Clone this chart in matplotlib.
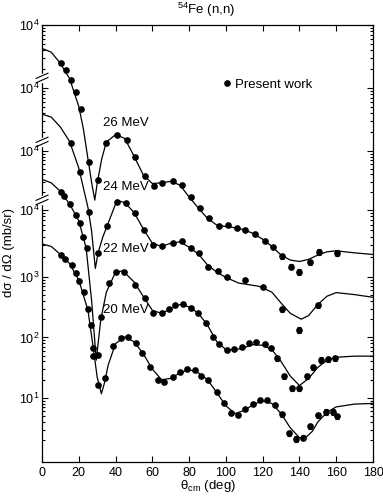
import numpy as np
import matplotlib
matplotlib.use('Agg')
import matplotlib.pyplot as plt
from matplotlib.ticker import FixedLocator, FixedFormatter, NullFormatter

plt.rcParams['font.family'] = ['Liberation Sans', 'DejaVu Sans']
plt.rcParams['mathtext.fontset'] = 'custom'
plt.rcParams['mathtext.rm'] = 'Liberation Sans'
plt.rcParams['mathtext.it'] = 'Liberation Sans:italic'

# Measured points (values as plotted, curves offset on the stacked scale)
angle_26 = [10.5, 13, 15.5, 18.5, 21, 25.5, 30.5, 35, 41, 46, 50.5, 56, 61, 65.5, 71, 76, 81, 86,
            91, 96, 101, 106, 110.5, 116, 121, 125.5, 130.5, 135.5, 140, 145.5, 150.5, 160.5]
xs_26 = [3.4e6, 2.6e6, 1.8e6, 1.14e6, 6.05e5, 8.0e4, 4.0e4, 1.64e5, 2.2e5, 1.84e5, 9.7e4, 4.7e4,
         3.2e4, 3.6e4, 3.9e4, 3.3e4, 2.1e4, 1.37e4, 9.3e3, 6.9e3, 7.1e3, 6.4e3, 5.9e3, 5.1e3,
         4.0e3, 3.1e3, 2.2e3, 1.48e3, 1.21e3, 1.74e3, 2.6e3, 2.5e3]

angle_24 = [15.5, 20.5, 25.5, 30.5, 35.5, 41, 45.5, 50.5, 55.5, 60.5, 65.5, 71, 76, 81, 85.5,
            90.5, 95.5, 100.5, 110.5, 120, 130.5, 140, 150]
xs_24 = [1.66e5, 5.5e4, 1.2e4, 2.47e3, 7.0e3, 1.76e4, 1.69e4, 1.16e4, 6.05e3, 3.4e3, 3.2e3,
         3.7e3, 4.0e3, 3.0e3, 2.5e3, 1.45e3, 1.26e3, 1.0e3, 8.9e2, 6.9e2, 2.9e2, 1.33e2, 3.4e2]

angle_22 = [10.5, 12, 15, 18.5, 20.5, 22.5, 24.5, 28, 30.5, 32, 36.5, 40, 44.5, 50.5, 56, 60.5,
            65, 69, 72.5, 76.5, 81, 85, 89, 93, 96.5, 100.5, 104.5, 109, 112.5, 116.5, 121,
            124.5, 128, 131.5, 136, 140, 144, 147.5, 151.5, 155.5, 159.5]
xs_22 = [2.5e4, 2.2e4, 1.6e4, 1.06e4, 7.7e3, 4.5e3, 3.0e3, 49, 51, 2.2e2, 8.0e2, 1.22e3, 1.22e3,
         7.4e2, 4.45e2, 2.57e2, 2.5e2, 2.9e2, 3.45e2, 3.6e2, 3.05e2, 2.57e2, 1.76e2, 1.0e2, 78,
         62, 64, 69, 82, 85, 78, 66, 45, 23, 14.5, 14.5, 23, 32, 42.5, 43.6, 45.3]

angle_20 = [10.5, 12.5, 16.5, 18.5, 20, 23, 25, 26.5, 28, 30.5, 34.5, 38.5, 43, 47, 51, 54.5, 59,
            63, 66.5, 71, 75, 79, 83, 86.5, 90.5, 95, 99, 103, 106.5, 110.5, 114.5, 118.5, 122.5,
            126.5, 130.5, 134.5, 138, 142, 146, 150, 154.5, 158, 160.5]
xs_20 = [2.3e3, 1.96e3, 1.58e3, 1.18e3, 8.7e2, 5.7e2, 3.0e2, 1.6e2, 66, 16.4, 21, 71, 98, 103,
         82, 56, 33, 19.9, 18.6, 22, 26.7, 30, 28.7, 23.1, 19.6, 12.7, 8.2, 5.6, 5.2, 6.6, 8.0,
         9.3, 9.3, 7.7, 5.4, 2.6, 2.1, 2.2, 3.4, 5.2, 5.9, 5.9, 5.0]

# Calculated curves
curve_angle_26 = [0, 5, 10, 15, 20, 22.5, 25, 27, 28.7, 30, 32.5, 35, 40, 45, 50, 55, 60, 65, 70,
                  75, 80, 85, 90, 95, 100, 105, 110, 115, 120, 125, 130, 135, 140, 145, 150, 155,
                  160, 170, 180]
curve_26 = [6.0e6, 5.2e6, 3.4e6, 1.9e6, 6.6e5, 2.8e5, 8.9e4, 3.6e4, 1.86e4, 3.5e4, 9.0e4, 1.7e5,
            2.25e5, 1.95e5, 1.0e5, 4.9e4, 3.5e4, 3.6e4, 3.8e4, 3.3e4, 2.1e4, 1.38e4, 9.3e3, 7.2e3,
            6.8e3, 6.5e3, 6.0e3, 5.2e3, 4.2e3, 3.2e3, 2.3e3, 1.9e3, 1.8e3, 1.95e3, 2.3e3, 2.6e3,
            2.7e3, 2.5e3, 2.35e3]

curve_angle_24 = [0, 5, 10, 15, 20, 25, 27, 29, 30.5, 33, 35.5, 40, 42.5, 45, 50, 55, 60, 65, 70,
                  75, 80, 85, 90, 95, 100, 107, 118, 125, 130, 135, 141, 145, 150, 155, 160, 170,
                  180]
curve_24 = [4.9e5, 4.4e5, 3.0e5, 1.74e5, 6.3e4, 1.4e4, 5.6e3, 1.38e3, 2.5e3, 4.5e3, 7.1e3, 1.6e4,
            1.78e4, 1.7e4, 1.17e4, 6.3e3, 3.6e3, 3.2e3, 3.6e3, 3.8e3, 3.1e3, 2.4e3, 1.58e3,
            1.2e3, 9.8e2, 7.9e2, 7.0e2, 5.6e2, 3.7e2, 2.5e2, 2.0e2, 2.3e2, 3.5e2, 4.8e2, 5.5e2,
            5.1e2, 4.6e2]

curve_angle_22 = [0, 5, 10, 15, 20, 24, 27, 29.5, 32, 35, 40, 44, 50, 55, 60, 65, 70, 75, 80, 85,
                  90, 95, 100, 105, 110, 115, 120, 125, 130, 135, 140, 145, 150, 155, 160, 170,
                  180]
curve_22 = [4.1e4, 3.6e4, 2.6e4, 1.6e4, 8.5e3, 3.0e3, 4.0e2, 42, 2.0e2, 5.6e2, 1.2e3, 1.26e3,
            8.3e2, 4.8e2, 2.8e2, 2.5e2, 2.95e2, 3.5e2, 3.2e2, 2.5e2, 1.6e2, 85, 63, 62, 68, 76, 74,
            63, 40, 23, 16, 21, 32, 42, 47, 49, 49]

curve_angle_20 = [0, 5, 10, 15, 20, 25, 28, 30, 32.3, 34, 36, 40, 45, 50, 55, 60, 65, 70, 75, 80,
                  85, 90, 95, 100, 105, 110, 115, 120, 125, 130, 135, 140, 143, 147, 150, 155,
                  160, 170, 180]
curve_20 = [3.5e3, 3.2e3, 2.35e3, 1.66e3, 8.9e2, 2.8e2, 63, 22, 11.7, 17.8, 35, 79, 1.02e2, 85,
            54, 30, 20, 21, 26, 29.5, 26, 20, 12.3, 7.4, 5.5, 6.2, 7.8, 8.9, 8.1, 5.5, 3.2, 2.2,
            2.15, 2.8, 4.0, 5.8, 7.1, 7.9, 8.1]

energy_labels = ['26 MeV', '24 MeV', '22 MeV', '20 MeV']

# Stacked y scale: tick positions (log10 of plotted value) and their labels
ytick_logs = [1, 2, 3, 4.107, 5.083, 6.124, 7.165]
ytick_labels = ['$10^1$', '$10^2$', '$10^3$', '$10^4$', '$10^4$', '$10^4$', '$10^4$']
break_logs = [4.273, 5.231, 6.289]
ylog_min, ylog_max = -0.06, 7.165

fig = plt.figure(figsize=(3.83, 4.98), dpi=100)
ax = fig.add_axes([42 / 383, 36 / 498, 331 / 383, 437 / 498])
ax.set_yscale('log')

series = [(curve_angle_26, curve_26, angle_26, xs_26),
          (curve_angle_24, curve_24, angle_24, xs_24),
          (curve_angle_22, curve_22, angle_22, xs_22),
          (curve_angle_20, curve_20, angle_20, xs_20)]

for ca, cv, pa, pv in series:
    ax.plot(ca, cv, color='black', lw=0.9)
    pa = np.array(pa)
    pv = np.array(pv)
    err = np.where(pa > 127, 0.1 * pv, 0.0)
    ax.errorbar(pa, pv, yerr=err, fmt='o', color='black', ms=3.8, elinewidth=0.8, capsize=1.2,
                capthick=0.8)

ax.set_xlim(0, 180)
ax.set_ylim(10 ** ylog_min, 10 ** ylog_max)
ax.set_xticks(np.arange(0, 181, 20))

# y ticks: majors at each (shifted) decade, minors inside each segment
major_logs = [0] + ytick_logs
minor_vals = []
for a, b in zip(major_logs[:-1], major_logs[1:]):
    for k in range(2, 10):
        minor_vals.append(10 ** (a + (b - a) * np.log10(k)))
ax.yaxis.set_major_locator(FixedLocator([10 ** v for v in ytick_logs]))
ax.yaxis.set_major_formatter(FixedFormatter(ytick_labels))
ax.yaxis.set_minor_locator(FixedLocator(minor_vals))
ax.yaxis.set_minor_formatter(NullFormatter())

ax.tick_params(which='both', direction='in', top=True, right=True, labelsize=9, width=0.8)
ax.tick_params(which='major', length=4)
ax.tick_params(which='minor', length=2)
ax.tick_params(axis='y', pad=2)
for s in ax.spines.values():
    s.set_linewidth(0.9)

# Axis breaks on the left spine
span = ylog_max - ylog_min
for bl in break_logs:
    fy = (bl - ylog_min) / span
    ax.plot([0, 0], [fy - 0.006, fy + 0.006], transform=ax.transAxes, color='white', lw=2.5,
            clip_on=False, zorder=5)
    for off in (-0.005, 0.005):
        ax.plot([-0.018, 0.018], [fy + off - 0.006, fy + off + 0.006], transform=ax.transAxes,
                color='black', lw=0.8, clip_on=False, zorder=6)

# Energy labels
label_y = [0.775, 0.63, 0.487, 0.348]
for lab, ly in zip(energy_labels, label_y):
    ax.text(0.185, ly, lab, transform=ax.transAxes, fontsize=9.5, va='center', ha='left')

ax.set_ylabel('dσ / dΩ (mb/sr)', fontsize=9.5)
ax.yaxis.set_label_coords(-0.082, 0.48)
ax.set_xlabel('θ$_{\\rm cm}$ (deg)', fontsize=9.5)
ax.xaxis.set_label_coords(0.5, -0.036)

h, = ax.plot([], [], 'o', color='black', ms=3.8)
ax.legend([h], ['Present work'], loc='center left', bbox_to_anchor=(0.548, 0.863), frameon=False,
          handlelength=0.6, handletextpad=0.3, fontsize=9.5, borderaxespad=0, borderpad=0)

fig.text(206 / 383, 1 - 10 / 498, r'$^{54}$Fe (n,n)', ha='center', va='center', fontsize=9.5)

fig.savefig('out.png', dpi=100)
